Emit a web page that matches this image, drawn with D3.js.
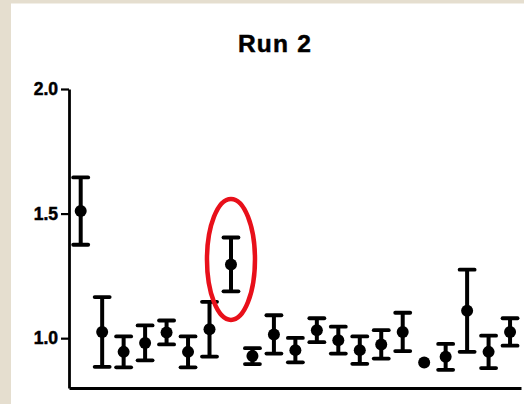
<!DOCTYPE html>
<html>
<head>
<meta charset="utf-8">
<script src="https://cdn.jsdelivr.net/npm/d3@7"></script>
<style>
  html, body { margin: 0; padding: 0; background: #ffffff; }
  svg { display: block; }
  text { font-family: "Liberation Sans", Arial, Helvetica, sans-serif; font-weight: bold; }
</style>
</head>
<body>
<div id="chart"></div>
<script>
// Run 2: mean ± error for each of 21 samples
const samples = d3.range(1, 22);
const means = [1.51, 1.025, 0.945, 0.981, 1.023, 0.945, 1.036, 1.296, 0.928, 1.015,
               0.952, 1.032, 0.992, 0.952, 0.975, 1.025, 0.902, 0.925, 1.110, 0.945, 1.025];
const errors = [0.135, 0.14, 0.062, 0.07, 0.048, 0.062, 0.11, 0.108, 0.032, 0.077,
                0.049, 0.048, 0.054, 0.055, 0.057, 0.077, 0, 0.052, 0.165, 0.065, 0.055];
const yTicks = [1.0, 1.5, 2.0];
const highlighted = 8; // sample circled in red
const title = "Run 2";

const W = 524, H = 404;
const svg = d3.select("#chart").append("svg").attr("width", W).attr("height", H);

// paper-like frame on the left and top
svg.append("rect").attr("x", 0).attr("y", 0).attr("width", W).attr("height", H).attr("fill", "#e5decf");
svg.append("rect").attr("x", 11).attr("y", 3.5).attr("width", W - 11).attr("height", H - 3.5).attr("fill", "#ffffff");

const x = d3.scaleLinear().domain([0.455, 21.51]).range([69, 521]);
const y = d3.scaleLinear().domain([0.8, 2.0]).range([388, 89]);

// title
svg.append("text").attr("x", 275).attr("y", 51.5)
  .attr("text-anchor", "middle").attr("font-size", 24.5).attr("letter-spacing", 1.2)
  .attr("stroke", "#000").attr("stroke-width", 0.5)
  .text(title);

// axes
const yAxis = svg.append("g").attr("transform", "translate(69,0)")
  .call(d3.axisLeft(y).tickValues(yTicks).tickFormat(d3.format(".1f")).tickSize(8).tickSizeOuter(0).tickPadding(3));
yAxis.select(".domain").attr("stroke", "#000").attr("stroke-width", 2.8);
yAxis.selectAll(".tick line").attr("stroke", "#000").attr("stroke-width", 2.2);
yAxis.selectAll(".tick text").attr("font-size", 17.5).attr("fill", "#000")
  .attr("stroke", "#000").attr("stroke-width", 0.5)
  .attr("font-family", "'Liberation Sans', Arial, sans-serif").attr("font-weight", "bold");

const xAxis = svg.append("g").attr("transform", "translate(0,388)")
  .call(d3.axisBottom(x).tickValues([]).tickSizeOuter(0));
xAxis.select(".domain").attr("stroke", "#000").attr("stroke-width", 2.8);

// error bars
const data = samples.map((s, i) => ({ s, m: means[i], e: errors[i] }));
const bars = svg.append("g").selectAll("g").data(data.filter(d => d.e > 0)).join("g");
bars.append("line")
  .attr("x1", d => x(d.s)).attr("x2", d => x(d.s))
  .attr("y1", d => y(d.m + d.e)).attr("y2", d => y(d.m - d.e))
  .attr("stroke", "#000").attr("stroke-width", 4);
[1, -1].forEach(sign => {
  bars.append("line")
    .attr("x1", d => x(d.s) - 7.5).attr("x2", d => x(d.s) + 7.5)
    .attr("y1", d => y(d.m + sign * d.e)).attr("y2", d => y(d.m + sign * d.e))
    .attr("stroke", "#000").attr("stroke-width", 3.8).attr("stroke-linecap", "round");
});

// means
svg.append("g").selectAll("circle").data(data).join("circle")
  .attr("cx", d => x(d.s)).attr("cy", d => y(d.m)).attr("r", 6).attr("fill", "#000");

// red ring around the highlighted sample
svg.append("ellipse")
  .attr("cx", x(highlighted)).attr("cy", y(means[highlighted - 1]) - 5)
  .attr("rx", 24).attr("ry", 60.5)
  .attr("fill", "none").attr("stroke", "#e8101a").attr("stroke-width", 4.5);
</script>
</body>
</html>
